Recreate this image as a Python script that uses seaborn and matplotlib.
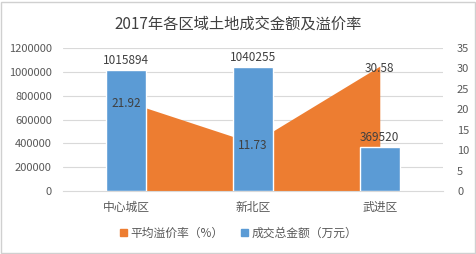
import matplotlib
matplotlib.use("Agg")
import matplotlib.pyplot as plt
import seaborn as sns
import pandas as pd
from matplotlib.patches import Patch, Rectangle

categories = ["中心城区", "新北区", "武进区"]
amount = [1015894, 1040255, 369520]
rate = [21.92, 11.73, 30.58]
left_ticks = [0, 200000, 400000, 600000, 800000, 1000000, 1200000]
right_ticks = [0, 5, 10, 15, 20, 25, 30, 35]
title = "2017年各区域土地成交金额及溢价率"
legend_rate = "平均溢价率（%）"
legend_amount = "成交总金额（万元）"

sns.set_theme(style="white")
plt.rcParams['font.family'] = ['Noto Sans CJK SC', 'DejaVu Sans']

BLUE = "#5B9BD5"
ORANGE = "#ED7D31"
TXT = "#595959"

fig = plt.figure(figsize=(4.77, 2.54), dpi=100)
fig.patch.set_facecolor("white")
fig.patches.append(Rectangle((0.003, 0.004), 0.992, 0.99, transform=fig.transFigure,
                             fill=False, edgecolor="#D0D0D0", linewidth=1.0))

ax = fig.add_axes([0.132, 0.248, 0.797, 0.563])
ax2 = ax.twinx()
ax.set_zorder(ax2.get_zorder() + 1)
ax.patch.set_visible(False)

df = pd.DataFrame({"cat": categories, "amount": amount, "rate": rate})
x = list(range(len(categories)))

# area on secondary axis (behind bars)
ax2.fill_between(x, 0, df["rate"], color=ORANGE, linewidth=0, zorder=2)
ax2.set_ylim(0, 35)
ax2.set_yticks(right_ticks)
ax2.set_yticklabels([str(t) for t in right_ticks], fontsize=8, color=TXT)
ax2.tick_params(axis="y", length=0, pad=10)

sns.barplot(data=df, x="cat", y="amount", color=BLUE, width=0.316, ax=ax,
            saturation=1, zorder=3)
ax.set_ylim(0, 1200000)
ax.set_xlim(-0.5, 2.5)
ax2.set_xlim(-0.5, 2.5)
ax.set_yticks(left_ticks)
ax.set_yticklabels([str(t) for t in left_ticks], fontsize=8, color=TXT)
ax.tick_params(axis="y", length=0, pad=8)
ax.tick_params(axis="x", length=0, pad=7, labelsize=8.5, labelcolor=TXT)
ax.set_xlabel("")
ax.set_ylabel("")

ax2.grid(False)
for t in left_ticks[1:]:
    ax2.axhline(t / 1200000 * 35, color="#D9D9D9", linewidth=0.8, zorder=0)

for s in ["top", "left", "right"]:
    ax.spines[s].set_visible(False)
    ax2.spines[s].set_visible(False)
ax2.spines["bottom"].set_visible(False)
ax.spines["bottom"].set_color("#D9D9D9")
ax.spines["bottom"].set_linewidth(0.8)

for i, v in enumerate(amount):
    ax.text(i, v + 25000, str(v), ha="center", va="bottom", fontsize=8.5, color="#404040", zorder=5)
for i, v in enumerate(rate):
    ax.text(i, v / 35 * 1200000 - 20000, f"{v:.2f}", ha="center", va="center", fontsize=8.5,
            color="#404040", zorder=5)

fig.text(0.5, 0.905, title, ha="center", va="center", fontsize=11, color="#404040")

handles = [Patch(color=ORANGE), Patch(color=BLUE)]
fig.legend(handles, [legend_rate, legend_amount], loc="center", bbox_to_anchor=(0.5, 0.083),
           ncol=2, frameon=False, fontsize=8.5, handlelength=0.55, handleheight=0.55,
           handletextpad=0.3, columnspacing=1.5, labelcolor=TXT)

fig.savefig("out.png", dpi=100)
